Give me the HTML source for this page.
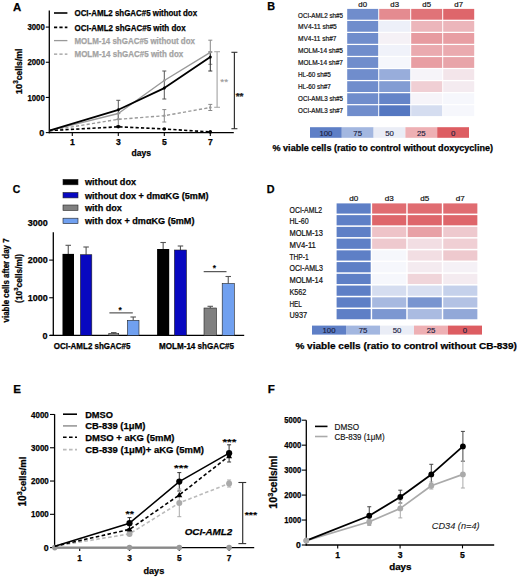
<!DOCTYPE html>
<html><head><meta charset="utf-8"><style>
html,body{margin:0;padding:0;background:#fff;}
svg{display:block;font-family:"Liberation Sans",sans-serif;}
</style></head><body>
<svg width="520" height="577" viewBox="0 0 520 577">
<rect width="520" height="577" fill="#fff"/>
<text x="12.90" y="10.60" font-size="11.4" font-weight="bold" stroke="#000" stroke-width="0.25">A</text>
<line x1="49.30" y1="10.50" x2="49.30" y2="133.20" stroke="#000" stroke-width="1.3"/>
<line x1="45.80" y1="132.60" x2="49.30" y2="132.60" stroke="#000" stroke-width="1.1"/>
<line x1="45.80" y1="97.43" x2="49.30" y2="97.43" stroke="#000" stroke-width="1.1"/>
<line x1="45.80" y1="62.26" x2="49.30" y2="62.26" stroke="#000" stroke-width="1.1"/>
<line x1="45.80" y1="27.09" x2="49.30" y2="27.09" stroke="#000" stroke-width="1.1"/>
<text x="44.80" y="100.63" font-size="9" font-weight="bold" stroke="#000" stroke-width="0.25" text-anchor="end" textLength="17.40" lengthAdjust="spacingAndGlyphs">1000</text>
<text x="44.80" y="65.46" font-size="9" font-weight="bold" stroke="#000" stroke-width="0.25" text-anchor="end" textLength="17.40" lengthAdjust="spacingAndGlyphs">2000</text>
<text x="44.80" y="30.29" font-size="9" font-weight="bold" stroke="#000" stroke-width="0.25" text-anchor="end" textLength="17.40" lengthAdjust="spacingAndGlyphs">3000</text>
<text x="44.20" y="135.80" font-size="9" font-weight="bold" stroke="#000" stroke-width="0.25" text-anchor="end">0</text>
<line x1="48.70" y1="132.60" x2="233.80" y2="132.60" stroke="#000" stroke-width="1.3"/>
<line x1="72.30" y1="132.60" x2="72.30" y2="136.00" stroke="#000" stroke-width="1.1"/>
<text x="72.30" y="144.80" font-size="8.6" font-weight="bold" stroke="#000" stroke-width="0.25" text-anchor="middle">1</text>
<line x1="118.30" y1="132.60" x2="118.30" y2="136.00" stroke="#000" stroke-width="1.1"/>
<text x="118.30" y="144.80" font-size="8.6" font-weight="bold" stroke="#000" stroke-width="0.25" text-anchor="middle">3</text>
<line x1="164.30" y1="132.60" x2="164.30" y2="136.00" stroke="#000" stroke-width="1.1"/>
<text x="164.30" y="144.80" font-size="8.6" font-weight="bold" stroke="#000" stroke-width="0.25" text-anchor="middle">5</text>
<line x1="210.30" y1="132.60" x2="210.30" y2="136.00" stroke="#000" stroke-width="1.1"/>
<text x="210.30" y="144.80" font-size="8.6" font-weight="bold" stroke="#000" stroke-width="0.25" text-anchor="middle">7</text>
<text x="131.50" y="156.40" font-size="8.6" font-weight="bold" stroke="#000" stroke-width="0.25" textLength="19.40" lengthAdjust="spacingAndGlyphs">days</text>
<text transform="translate(21.8 71.4) rotate(-90)" font-size="8.6" font-weight="bold" stroke="#000" stroke-width="0.25" text-anchor="middle" textLength="45.5" lengthAdjust="spacingAndGlyphs"><tspan font-size="9.2">10</tspan><tspan font-size="6.4" dy="-3.6">3</tspan><tspan dy="3.6">cells/ml</tspan></text>
<line x1="54.00" y1="13.00" x2="67.40" y2="13.00" stroke="#000" stroke-width="1.6"/>
<text x="74.50" y="16.10" font-size="8.8" font-weight="bold" stroke="#000" stroke-width="0.25" textLength="122.60" lengthAdjust="spacingAndGlyphs">OCI-AML2 shGAC#5 without dox</text>
<line x1="54.00" y1="27.40" x2="67.40" y2="27.40" stroke="#000" stroke-width="1.6" stroke-dasharray="3.2 2.2"/>
<text x="74.50" y="30.50" font-size="8.8" font-weight="bold" stroke="#000" stroke-width="0.25" textLength="111.10" lengthAdjust="spacingAndGlyphs">OCI-AML2 shGAC#5 with dox</text>
<line x1="54.00" y1="40.60" x2="67.40" y2="40.60" stroke="#999" stroke-width="1.3"/>
<text x="74.50" y="43.70" font-size="8.8" font-weight="bold" stroke="#a3a3a3" stroke-width="0.25" fill="#a3a3a3" textLength="120.50" lengthAdjust="spacingAndGlyphs">MOLM-14 shGAC#5 without dox</text>
<line x1="54.00" y1="54.20" x2="67.40" y2="54.20" stroke="#999" stroke-width="1.3" stroke-dasharray="3.2 2.2"/>
<text x="74.50" y="57.30" font-size="8.8" font-weight="bold" stroke="#a3a3a3" stroke-width="0.25" fill="#a3a3a3" textLength="108.80" lengthAdjust="spacingAndGlyphs">MOLM-14 shGAC#5 with dox</text>
<line x1="118.30" y1="100.30" x2="118.30" y2="119.30" stroke="#555" stroke-width="1.0"/>
<line x1="116.30" y1="100.30" x2="120.30" y2="100.30" stroke="#555" stroke-width="1.0"/>
<line x1="116.30" y1="119.30" x2="120.30" y2="119.30" stroke="#555" stroke-width="1.0"/>
<line x1="118.30" y1="113.50" x2="118.30" y2="125.50" stroke="#888" stroke-width="1.0"/>
<line x1="116.30" y1="113.50" x2="120.30" y2="113.50" stroke="#888" stroke-width="1.0"/>
<line x1="116.30" y1="125.50" x2="120.30" y2="125.50" stroke="#888" stroke-width="1.0"/>
<line x1="164.30" y1="71.00" x2="164.30" y2="99.00" stroke="#555" stroke-width="1.0"/>
<line x1="162.30" y1="71.00" x2="166.30" y2="71.00" stroke="#555" stroke-width="1.0"/>
<line x1="162.30" y1="99.00" x2="166.30" y2="99.00" stroke="#555" stroke-width="1.0"/>
<line x1="164.30" y1="109.60" x2="164.30" y2="122.00" stroke="#888" stroke-width="1.0"/>
<line x1="162.30" y1="109.60" x2="166.30" y2="109.60" stroke="#888" stroke-width="1.0"/>
<line x1="162.30" y1="122.00" x2="166.30" y2="122.00" stroke="#888" stroke-width="1.0"/>
<line x1="210.30" y1="40.20" x2="210.30" y2="64.30" stroke="#888" stroke-width="1.0"/>
<line x1="208.30" y1="40.20" x2="212.30" y2="40.20" stroke="#888" stroke-width="1.0"/>
<line x1="208.30" y1="64.30" x2="212.30" y2="64.30" stroke="#888" stroke-width="1.0"/>
<line x1="210.30" y1="52.00" x2="210.30" y2="71.00" stroke="#333" stroke-width="1.0"/>
<line x1="208.30" y1="52.00" x2="212.30" y2="52.00" stroke="#333" stroke-width="1.0"/>
<line x1="208.30" y1="71.00" x2="212.30" y2="71.00" stroke="#333" stroke-width="1.0"/>
<line x1="210.30" y1="104.40" x2="210.30" y2="110.50" stroke="#888" stroke-width="1.0"/>
<line x1="208.30" y1="104.40" x2="212.30" y2="104.40" stroke="#888" stroke-width="1.0"/>
<line x1="208.30" y1="110.50" x2="212.30" y2="110.50" stroke="#888" stroke-width="1.0"/>
<polyline points="49.30,130.60 118.30,119.30 164.30,115.70 210.30,107.50" fill="none" stroke="#999" stroke-width="1.4" stroke-dasharray="3.2 2.2" stroke-linejoin="round"/>
<polyline points="49.30,130.60 118.30,126.80 164.30,129.00 210.30,131.90" fill="none" stroke="#000" stroke-width="1.6" stroke-dasharray="3.2 2.2" stroke-linejoin="round"/>
<polyline points="49.30,130.60 118.30,113.50 164.30,80.50 210.30,52.30" fill="none" stroke="#999" stroke-width="1.4" stroke-linejoin="round"/>
<polyline points="49.30,130.60 118.30,109.80 164.30,88.10 210.30,57.10" fill="none" stroke="#000" stroke-width="1.8" stroke-linejoin="round"/>
<circle cx="118.30" cy="126.80" r="1.8" fill="#000"/>
<circle cx="164.30" cy="129.00" r="1.8" fill="#000"/>
<circle cx="210.30" cy="131.90" r="1.8" fill="#000"/>
<circle cx="118.30" cy="119.30" r="1.3" fill="#999"/>
<circle cx="164.30" cy="115.70" r="1.3" fill="#999"/>
<circle cx="210.30" cy="107.50" r="1.3" fill="#999"/>
<circle cx="118.30" cy="113.50" r="1.3" fill="#999"/>
<circle cx="164.30" cy="80.50" r="1.3" fill="#999"/>
<circle cx="210.30" cy="52.30" r="1.3" fill="#999"/>
<circle cx="118.30" cy="109.80" r="1.5" fill="#000"/>
<circle cx="164.30" cy="88.10" r="1.5" fill="#000"/>
<circle cx="210.30" cy="57.10" r="1.5" fill="#000"/>
<line x1="217.10" y1="51.70" x2="217.10" y2="107.30" stroke="#aaa" stroke-width="1.2"/>
<line x1="214.20" y1="51.70" x2="220.00" y2="51.70" stroke="#aaa" stroke-width="1.1"/>
<line x1="214.20" y1="107.30" x2="220.00" y2="107.30" stroke="#aaa" stroke-width="1.1"/>
<text x="220.30" y="85.00" font-size="9.4" font-weight="normal" stroke="#999" stroke-width="0.15" fill="#999" textLength="7.80" lengthAdjust="spacingAndGlyphs">**</text>
<line x1="234.40" y1="52.30" x2="234.40" y2="128.70" stroke="#333" stroke-width="1.2"/>
<line x1="231.40" y1="52.30" x2="237.40" y2="52.30" stroke="#333" stroke-width="1.1"/>
<line x1="231.40" y1="128.70" x2="237.40" y2="128.70" stroke="#333" stroke-width="1.1"/>
<text x="235.70" y="98.80" font-size="9.6" font-weight="bold" stroke="#222" stroke-width="0.25" fill="#222" textLength="7.80" lengthAdjust="spacingAndGlyphs">**</text>
<text x="267.20" y="10.00" font-size="10.8" font-weight="bold" stroke="#000" stroke-width="0.25">B</text>
<text x="362.70" y="6.80" font-size="7.8" font-weight="normal" stroke="#111" stroke-width="0.2" text-anchor="middle" fill="#111">d0</text>
<text x="394.70" y="6.80" font-size="7.8" font-weight="normal" stroke="#111" stroke-width="0.2" text-anchor="middle" fill="#111">d3</text>
<text x="426.70" y="6.80" font-size="7.8" font-weight="normal" stroke="#111" stroke-width="0.2" text-anchor="middle" fill="#111">d5</text>
<text x="458.70" y="6.80" font-size="7.8" font-weight="normal" stroke="#111" stroke-width="0.2" text-anchor="middle" fill="#111">d7</text>
<rect x="347.20" y="8.90" width="31.00" height="10.80" fill="rgb(112,141,204)"/>
<rect x="379.20" y="8.90" width="31.00" height="10.80" fill="rgb(228,139,144)"/>
<rect x="411.20" y="8.90" width="31.00" height="10.80" fill="rgb(224,115,120)"/>
<rect x="443.20" y="8.90" width="31.00" height="10.80" fill="rgb(222,102,107)"/>
<text x="298.00" y="17.50" font-size="7.8" font-weight="normal" stroke="#111" stroke-width="0.22" fill="#111" textLength="45.00" lengthAdjust="spacingAndGlyphs">OCI-AML2 sh#5</text>
<rect x="347.20" y="20.95" width="31.00" height="10.80" fill="rgb(112,141,204)"/>
<rect x="379.20" y="20.95" width="31.00" height="10.80" fill="rgb(237,240,249)"/>
<rect x="411.20" y="20.95" width="31.00" height="10.80" fill="rgb(236,182,187)"/>
<rect x="443.20" y="20.95" width="31.00" height="10.80" fill="rgb(236,182,187)"/>
<text x="298.00" y="29.40" font-size="7.8" font-weight="normal" stroke="#111" stroke-width="0.22" fill="#111" textLength="38.80" lengthAdjust="spacingAndGlyphs">MV4-11 sh#5</text>
<rect x="347.20" y="33.00" width="31.00" height="10.80" fill="rgb(112,141,204)"/>
<rect x="379.20" y="33.00" width="31.00" height="10.80" fill="rgb(245,241,246)"/>
<rect x="411.20" y="33.00" width="31.00" height="10.80" fill="rgb(231,155,160)"/>
<rect x="443.20" y="33.00" width="31.00" height="10.80" fill="rgb(232,158,163)"/>
<text x="298.00" y="41.30" font-size="7.8" font-weight="normal" stroke="#111" stroke-width="0.22" fill="#111" textLength="38.40" lengthAdjust="spacingAndGlyphs">MV4-11 sh#7</text>
<rect x="347.20" y="45.05" width="31.00" height="10.80" fill="rgb(112,141,204)"/>
<rect x="379.20" y="45.05" width="31.00" height="10.80" fill="rgb(240,242,250)"/>
<rect x="411.20" y="45.05" width="31.00" height="10.80" fill="rgb(234,170,175)"/>
<rect x="443.20" y="45.05" width="31.00" height="10.80" fill="rgb(234,170,175)"/>
<text x="298.00" y="53.20" font-size="7.8" font-weight="normal" stroke="#111" stroke-width="0.22" fill="#111" textLength="45.00" lengthAdjust="spacingAndGlyphs">MOLM-14 sh#5</text>
<rect x="347.20" y="57.10" width="31.00" height="10.80" fill="rgb(112,141,204)"/>
<rect x="379.20" y="57.10" width="31.00" height="10.80" fill="rgb(246,247,252)"/>
<rect x="411.20" y="57.10" width="31.00" height="10.80" fill="rgb(232,158,163)"/>
<rect x="443.20" y="57.10" width="31.00" height="10.80" fill="rgb(232,164,169)"/>
<text x="298.00" y="65.10" font-size="7.8" font-weight="normal" stroke="#111" stroke-width="0.22" fill="#111" textLength="45.00" lengthAdjust="spacingAndGlyphs">MOLM-14 sh#7</text>
<rect x="347.20" y="69.15" width="31.00" height="10.80" fill="rgb(112,141,204)"/>
<rect x="379.20" y="69.15" width="31.00" height="10.80" fill="rgb(152,173,219)"/>
<rect x="411.20" y="69.15" width="31.00" height="10.80" fill="rgb(246,244,249)"/>
<rect x="443.20" y="69.15" width="31.00" height="10.80" fill="rgb(243,229,234)"/>
<text x="298.00" y="77.00" font-size="7.8" font-weight="normal" stroke="#111" stroke-width="0.22" fill="#111" textLength="32.90" lengthAdjust="spacingAndGlyphs">HL-60 sh#5</text>
<rect x="347.20" y="81.20" width="31.00" height="10.80" fill="rgb(112,141,204)"/>
<rect x="379.20" y="81.20" width="31.00" height="10.80" fill="rgb(130,156,211)"/>
<rect x="411.20" y="81.20" width="31.00" height="10.80" fill="rgb(240,207,212)"/>
<rect x="443.20" y="81.20" width="31.00" height="10.80" fill="rgb(244,235,240)"/>
<text x="298.00" y="88.90" font-size="7.8" font-weight="normal" stroke="#111" stroke-width="0.22" fill="#111" textLength="32.90" lengthAdjust="spacingAndGlyphs">HL-60 sh#7</text>
<rect x="347.20" y="93.25" width="31.00" height="10.80" fill="rgb(112,141,204)"/>
<rect x="379.20" y="93.25" width="31.00" height="10.80" fill="rgb(100,132,200)"/>
<rect x="411.20" y="93.25" width="31.00" height="10.80" fill="rgb(246,244,249)"/>
<rect x="443.20" y="93.25" width="31.00" height="10.80" fill="rgb(246,247,252)"/>
<text x="298.00" y="100.80" font-size="7.8" font-weight="normal" stroke="#111" stroke-width="0.22" fill="#111" textLength="45.00" lengthAdjust="spacingAndGlyphs">OCI-AML3 sh#5</text>
<rect x="347.20" y="105.30" width="31.00" height="10.80" fill="rgb(112,141,204)"/>
<rect x="379.20" y="105.30" width="31.00" height="10.80" fill="rgb(84,119,193)"/>
<rect x="411.20" y="105.30" width="31.00" height="10.80" fill="rgb(213,221,240)"/>
<rect x="443.20" y="105.30" width="31.00" height="10.80" fill="rgb(246,247,252)"/>
<text x="298.00" y="112.70" font-size="7.8" font-weight="normal" stroke="#111" stroke-width="0.22" fill="#111" textLength="45.00" lengthAdjust="spacingAndGlyphs">OCI-AML3 sh#7</text>
<rect x="310.00" y="127.20" width="31.80" height="10.60" fill="rgb(94,127,198)"/>
<text x="325.90" y="135.60" font-size="7.8" font-weight="normal" stroke="#1a2040" stroke-width="0.15" text-anchor="middle" fill="#1a2040">100</text>
<rect x="341.80" y="127.20" width="31.80" height="10.60" fill="rgb(163,183,224)"/>
<text x="357.70" y="135.60" font-size="7.8" font-weight="normal" stroke="#1a2040" stroke-width="0.15" text-anchor="middle" fill="#1a2040">75</text>
<rect x="373.60" y="127.20" width="31.80" height="10.60" fill="rgb(234,237,246)"/>
<text x="389.50" y="135.60" font-size="7.8" font-weight="normal" stroke="#1a2040" stroke-width="0.15" text-anchor="middle" fill="#1a2040">50</text>
<rect x="405.40" y="127.20" width="31.80" height="10.60" fill="rgb(238,176,180)"/>
<text x="421.30" y="135.60" font-size="7.8" font-weight="normal" stroke="#1a2040" stroke-width="0.15" text-anchor="middle" fill="#1a2040">25</text>
<rect x="437.20" y="127.20" width="31.80" height="10.60" fill="rgb(221,93,98)"/>
<text x="453.10" y="135.60" font-size="7.8" font-weight="normal" stroke="#1a2040" stroke-width="0.15" text-anchor="middle" fill="#1a2040">0</text>
<text x="272.50" y="151.20" font-size="8.7" font-weight="bold" stroke="#000" stroke-width="0.25" textLength="220.50" lengthAdjust="spacingAndGlyphs">% viable cells (ratio to control without doxycycline)</text>
<text x="12.80" y="192.80" font-size="10.4" font-weight="bold" stroke="#000" stroke-width="0.25">C</text>
<rect x="63.00" y="179.40" width="15.00" height="5.40" fill="#000" stroke="#222" stroke-width="0.6"/>
<text x="85.00" y="185.40" font-size="9.1" font-weight="bold" stroke="#000" stroke-width="0.25">without dox</text>
<rect x="63.00" y="192.50" width="15.00" height="5.40" fill="#0808c0" stroke="#222" stroke-width="0.6"/>
<text x="85.00" y="198.50" font-size="9.1" font-weight="bold" stroke="#000" stroke-width="0.25">without dox + dmαKG (5mM)</text>
<rect x="63.00" y="205.00" width="15.00" height="5.40" fill="#808080" stroke="#222" stroke-width="0.6"/>
<text x="85.00" y="211.00" font-size="9.1" font-weight="bold" stroke="#000" stroke-width="0.25">with dox</text>
<rect x="63.00" y="218.20" width="15.00" height="5.40" fill="#70a0f0" stroke="#222" stroke-width="0.6"/>
<text x="85.00" y="224.20" font-size="9.1" font-weight="bold" stroke="#000" stroke-width="0.25">with dox + dmαKG (5mM)</text>
<line x1="53.30" y1="232.20" x2="53.30" y2="336.00" stroke="#000" stroke-width="1.3"/>
<line x1="49.20" y1="335.40" x2="53.30" y2="335.40" stroke="#000" stroke-width="1.1"/>
<line x1="49.20" y1="297.75" x2="53.30" y2="297.75" stroke="#000" stroke-width="1.1"/>
<line x1="49.20" y1="260.10" x2="53.30" y2="260.10" stroke="#000" stroke-width="1.1"/>
<text x="47.70" y="300.95" font-size="9" font-weight="bold" stroke="#000" stroke-width="0.25" text-anchor="end" textLength="20.00" lengthAdjust="spacingAndGlyphs">1000</text>
<text x="47.70" y="263.30" font-size="9" font-weight="bold" stroke="#000" stroke-width="0.25" text-anchor="end" textLength="20.00" lengthAdjust="spacingAndGlyphs">2000</text>
<text x="47.70" y="225.65" font-size="9" font-weight="bold" stroke="#000" stroke-width="0.25" text-anchor="end" textLength="20.00" lengthAdjust="spacingAndGlyphs">3000</text>
<text x="47.40" y="338.60" font-size="9" font-weight="bold" stroke="#000" stroke-width="0.25" text-anchor="end">0</text>
<line x1="50.00" y1="335.40" x2="244.20" y2="335.40" stroke="#000" stroke-width="1.3"/>
<line x1="68.25" y1="245.30" x2="68.25" y2="253.90" stroke="#555" stroke-width="1.1"/>
<line x1="65.50" y1="245.30" x2="71.00" y2="245.30" stroke="#555" stroke-width="1.1"/>
<rect x="62.50" y="253.90" width="11.50" height="81.50" fill="#000"/>
<line x1="86.10" y1="247.00" x2="86.10" y2="254.70" stroke="#555" stroke-width="1.1"/>
<line x1="83.35" y1="247.00" x2="88.85" y2="247.00" stroke="#555" stroke-width="1.1"/>
<rect x="80.40" y="254.70" width="11.40" height="80.70" fill="#0808c0" stroke="#222" stroke-width="0.6"/>
<line x1="113.75" y1="332.60" x2="113.75" y2="333.60" stroke="#555" stroke-width="1.1"/>
<line x1="111.00" y1="332.60" x2="116.50" y2="332.60" stroke="#555" stroke-width="1.1"/>
<rect x="108.80" y="333.60" width="9.90" height="1.80" fill="#808080" stroke="#222" stroke-width="0.6"/>
<line x1="133.20" y1="317.00" x2="133.20" y2="320.30" stroke="#555" stroke-width="1.1"/>
<line x1="130.45" y1="317.00" x2="135.95" y2="317.00" stroke="#555" stroke-width="1.1"/>
<rect x="127.40" y="320.30" width="11.60" height="15.10" fill="#70a0f0" stroke="#222" stroke-width="0.6"/>
<line x1="163.15" y1="242.50" x2="163.15" y2="249.00" stroke="#555" stroke-width="1.1"/>
<line x1="160.40" y1="242.50" x2="165.90" y2="242.50" stroke="#555" stroke-width="1.1"/>
<rect x="157.10" y="249.00" width="12.10" height="86.40" fill="#000"/>
<line x1="180.45" y1="246.00" x2="180.45" y2="250.00" stroke="#555" stroke-width="1.1"/>
<line x1="177.70" y1="246.00" x2="183.20" y2="246.00" stroke="#555" stroke-width="1.1"/>
<rect x="174.40" y="250.00" width="12.10" height="85.40" fill="#0808c0" stroke="#222" stroke-width="0.6"/>
<line x1="210.25" y1="306.30" x2="210.25" y2="308.00" stroke="#555" stroke-width="1.1"/>
<line x1="207.50" y1="306.30" x2="213.00" y2="306.30" stroke="#555" stroke-width="1.1"/>
<rect x="204.00" y="308.00" width="12.50" height="27.40" fill="#808080" stroke="#222" stroke-width="0.6"/>
<line x1="228.25" y1="276.50" x2="228.25" y2="283.50" stroke="#555" stroke-width="1.1"/>
<line x1="225.50" y1="276.50" x2="231.00" y2="276.50" stroke="#555" stroke-width="1.1"/>
<rect x="222.20" y="283.50" width="12.10" height="51.90" fill="#70a0f0" stroke="#222" stroke-width="0.6"/>
<line x1="109.40" y1="312.90" x2="132.80" y2="312.90" stroke="#333" stroke-width="1.0"/>
<text x="120.20" y="312.60" font-size="8.4" font-weight="bold" stroke="#000" stroke-width="0.1" text-anchor="middle">*</text>
<line x1="203.70" y1="271.70" x2="226.50" y2="271.70" stroke="#333" stroke-width="1.0"/>
<text x="214.40" y="271.40" font-size="8.4" font-weight="bold" stroke="#000" stroke-width="0.1" text-anchor="middle">*</text>
<text x="53.80" y="349.20" font-size="8.2" font-weight="bold" stroke="#000" stroke-width="0.25" textLength="76.60" lengthAdjust="spacingAndGlyphs">OCI-AML2 shGAC#5</text>
<text x="159.00" y="349.20" font-size="8.2" font-weight="bold" stroke="#000" stroke-width="0.25" textLength="75.00" lengthAdjust="spacingAndGlyphs">MOLM-14 shGAC#5</text>
<text x="8.90" y="280.40" font-size="8.6" font-weight="bold" stroke="#000" stroke-width="0.25" text-anchor="middle" textLength="84.00" lengthAdjust="spacingAndGlyphs" transform="rotate(-90 8.90 280.40)">viable cells after day 7</text>
<text transform="translate(21.7 278.4) rotate(-90)" font-size="8.8" font-weight="bold" stroke="#000" stroke-width="0.25" text-anchor="middle" textLength="49" lengthAdjust="spacingAndGlyphs">(10<tspan font-size="6.2" dy="-3.3">3</tspan><tspan dy="3.3">cells/ml)</tspan></text>
<text x="266.80" y="193.00" font-size="10.8" font-weight="bold" stroke="#000" stroke-width="0.25">D</text>
<text x="353.65" y="201.20" font-size="8.1" font-weight="normal" stroke="#111" stroke-width="0.2" text-anchor="middle" fill="#111">d0</text>
<text x="389.20" y="201.20" font-size="8.1" font-weight="normal" stroke="#111" stroke-width="0.2" text-anchor="middle" fill="#111">d3</text>
<text x="424.75" y="201.20" font-size="8.1" font-weight="normal" stroke="#111" stroke-width="0.2" text-anchor="middle" fill="#111">d5</text>
<text x="460.30" y="201.20" font-size="8.1" font-weight="normal" stroke="#111" stroke-width="0.2" text-anchor="middle" fill="#111">d7</text>
<rect x="336.60" y="203.40" width="34.10" height="10.20" fill="rgb(94,127,198)"/>
<rect x="372.15" y="203.40" width="34.10" height="10.20" fill="rgb(224,108,113)"/>
<rect x="407.70" y="203.40" width="34.10" height="10.20" fill="rgb(224,108,113)"/>
<rect x="443.25" y="203.40" width="34.10" height="10.20" fill="rgb(224,108,113)"/>
<text x="289.50" y="212.50" font-size="8.6" font-weight="normal" stroke="#111" stroke-width="0.22" fill="#111" textLength="32.70" lengthAdjust="spacingAndGlyphs">OCI-AML2</text>
<rect x="336.60" y="215.14" width="34.10" height="10.20" fill="rgb(94,127,198)"/>
<rect x="372.15" y="215.14" width="34.10" height="10.20" fill="rgb(222,102,107)"/>
<rect x="407.70" y="215.14" width="34.10" height="10.20" fill="rgb(222,102,107)"/>
<rect x="443.25" y="215.14" width="34.10" height="10.20" fill="rgb(222,102,107)"/>
<text x="289.50" y="224.27" font-size="8.6" font-weight="normal" stroke="#111" stroke-width="0.22" fill="#111" textLength="19.20" lengthAdjust="spacingAndGlyphs">HL-60</text>
<rect x="336.60" y="226.88" width="34.10" height="10.20" fill="rgb(94,127,198)"/>
<rect x="372.15" y="226.88" width="34.10" height="10.20" fill="rgb(238,195,200)"/>
<rect x="407.70" y="226.88" width="34.10" height="10.20" fill="rgb(232,161,166)"/>
<rect x="443.25" y="226.88" width="34.10" height="10.20" fill="rgb(238,201,206)"/>
<text x="289.50" y="236.04" font-size="8.6" font-weight="normal" stroke="#111" stroke-width="0.22" fill="#111" textLength="33.40" lengthAdjust="spacingAndGlyphs">MOLM-13</text>
<rect x="336.60" y="238.62" width="34.10" height="10.20" fill="rgb(94,127,198)"/>
<rect x="372.15" y="238.62" width="34.10" height="10.20" fill="rgb(238,201,206)"/>
<rect x="407.70" y="238.62" width="34.10" height="10.20" fill="rgb(242,222,227)"/>
<rect x="443.25" y="238.62" width="34.10" height="10.20" fill="rgb(240,207,212)"/>
<text x="289.50" y="247.81" font-size="8.6" font-weight="normal" stroke="#111" stroke-width="0.22" fill="#111" textLength="26.40" lengthAdjust="spacingAndGlyphs">MV4-11</text>
<rect x="336.60" y="250.36" width="34.10" height="10.20" fill="rgb(94,127,198)"/>
<rect x="372.15" y="250.36" width="34.10" height="10.20" fill="rgb(246,247,252)"/>
<rect x="407.70" y="250.36" width="34.10" height="10.20" fill="rgb(242,222,227)"/>
<rect x="443.25" y="250.36" width="34.10" height="10.20" fill="rgb(238,201,206)"/>
<text x="289.50" y="259.58" font-size="8.6" font-weight="normal" stroke="#111" stroke-width="0.22" fill="#111" textLength="19.20" lengthAdjust="spacingAndGlyphs">THP-1</text>
<rect x="336.60" y="262.10" width="34.10" height="10.20" fill="rgb(94,127,198)"/>
<rect x="372.15" y="262.10" width="34.10" height="10.20" fill="rgb(246,247,252)"/>
<rect x="407.70" y="262.10" width="34.10" height="10.20" fill="rgb(244,235,240)"/>
<rect x="443.25" y="262.10" width="34.10" height="10.20" fill="rgb(245,241,246)"/>
<text x="289.50" y="271.35" font-size="8.6" font-weight="normal" stroke="#111" stroke-width="0.22" fill="#111" textLength="33.40" lengthAdjust="spacingAndGlyphs">OCI-AML3</text>
<rect x="336.60" y="273.84" width="34.10" height="10.20" fill="rgb(94,127,198)"/>
<rect x="372.15" y="273.84" width="34.10" height="10.20" fill="rgb(246,247,252)"/>
<rect x="407.70" y="273.84" width="34.10" height="10.20" fill="rgb(240,213,218)"/>
<rect x="443.25" y="273.84" width="34.10" height="10.20" fill="rgb(244,235,240)"/>
<text x="289.50" y="283.12" font-size="8.6" font-weight="normal" stroke="#111" stroke-width="0.22" fill="#111" textLength="33.40" lengthAdjust="spacingAndGlyphs">MOLM-14</text>
<rect x="336.60" y="285.58" width="34.10" height="10.20" fill="rgb(94,127,198)"/>
<rect x="372.15" y="285.58" width="34.10" height="10.20" fill="rgb(213,221,240)"/>
<rect x="407.70" y="285.58" width="34.10" height="10.20" fill="rgb(216,223,241)"/>
<rect x="443.25" y="285.58" width="34.10" height="10.20" fill="rgb(197,209,235)"/>
<text x="289.50" y="294.89" font-size="8.6" font-weight="normal" stroke="#111" stroke-width="0.22" fill="#111" textLength="16.90" lengthAdjust="spacingAndGlyphs">K562</text>
<rect x="336.60" y="297.32" width="34.10" height="10.20" fill="rgb(94,127,198)"/>
<rect x="372.15" y="297.32" width="34.10" height="10.20" fill="rgb(167,185,224)"/>
<rect x="407.70" y="297.32" width="34.10" height="10.20" fill="rgb(121,149,208)"/>
<rect x="443.25" y="297.32" width="34.10" height="10.20" fill="rgb(179,194,228)"/>
<text x="289.50" y="306.66" font-size="8.6" font-weight="normal" stroke="#111" stroke-width="0.22" fill="#111" textLength="12.40" lengthAdjust="spacingAndGlyphs">HEL</text>
<rect x="336.60" y="309.06" width="34.10" height="10.20" fill="rgb(94,127,198)"/>
<rect x="372.15" y="309.06" width="34.10" height="10.20" fill="rgb(124,151,209)"/>
<rect x="407.70" y="309.06" width="34.10" height="10.20" fill="rgb(170,187,225)"/>
<rect x="443.25" y="309.06" width="34.10" height="10.20" fill="rgb(146,168,216)"/>
<text x="289.50" y="318.43" font-size="8.6" font-weight="normal" stroke="#111" stroke-width="0.22" fill="#111" textLength="17.60" lengthAdjust="spacingAndGlyphs">U937</text>
<rect x="312.00" y="325.60" width="34.00" height="9.00" fill="rgb(94,127,198)"/>
<text x="329.00" y="333.00" font-size="7.8" font-weight="normal" stroke="#1a2040" stroke-width="0.15" text-anchor="middle" fill="#1a2040">100</text>
<rect x="346.00" y="325.60" width="34.00" height="9.00" fill="rgb(163,183,224)"/>
<text x="363.00" y="333.00" font-size="7.8" font-weight="normal" stroke="#1a2040" stroke-width="0.15" text-anchor="middle" fill="#1a2040">75</text>
<rect x="380.00" y="325.60" width="34.00" height="9.00" fill="rgb(234,237,246)"/>
<text x="397.00" y="333.00" font-size="7.8" font-weight="normal" stroke="#1a2040" stroke-width="0.15" text-anchor="middle" fill="#1a2040">50</text>
<rect x="414.00" y="325.60" width="34.00" height="9.00" fill="rgb(238,176,180)"/>
<text x="431.00" y="333.00" font-size="7.8" font-weight="normal" stroke="#1a2040" stroke-width="0.15" text-anchor="middle" fill="#1a2040">25</text>
<rect x="448.00" y="325.60" width="34.00" height="9.00" fill="rgb(221,93,98)"/>
<text x="465.00" y="333.00" font-size="7.8" font-weight="normal" stroke="#1a2040" stroke-width="0.15" text-anchor="middle" fill="#1a2040">0</text>
<text x="295.40" y="348.60" font-size="9.5" font-weight="bold" stroke="#000" stroke-width="0.25" textLength="221.50" lengthAdjust="spacingAndGlyphs">% viable cells (ratio to control without CB-839)</text>
<text x="13.30" y="393.00" font-size="11.6" font-weight="bold" stroke="#000" stroke-width="0.25">E</text>
<line x1="54.60" y1="414.20" x2="54.60" y2="548.20" stroke="#000" stroke-width="1.3"/>
<line x1="50.00" y1="547.60" x2="54.60" y2="547.60" stroke="#000" stroke-width="1.1"/>
<line x1="50.00" y1="514.32" x2="54.60" y2="514.32" stroke="#000" stroke-width="1.1"/>
<line x1="50.00" y1="481.04" x2="54.60" y2="481.04" stroke="#000" stroke-width="1.1"/>
<line x1="50.00" y1="447.76" x2="54.60" y2="447.76" stroke="#000" stroke-width="1.1"/>
<line x1="50.00" y1="414.48" x2="54.60" y2="414.48" stroke="#000" stroke-width="1.1"/>
<text x="48.80" y="517.42" font-size="8.8" font-weight="bold" stroke="#000" stroke-width="0.25" text-anchor="end" textLength="17.70" lengthAdjust="spacingAndGlyphs">1000</text>
<text x="48.80" y="484.14" font-size="8.8" font-weight="bold" stroke="#000" stroke-width="0.25" text-anchor="end" textLength="17.70" lengthAdjust="spacingAndGlyphs">2000</text>
<text x="48.80" y="450.86" font-size="8.8" font-weight="bold" stroke="#000" stroke-width="0.25" text-anchor="end" textLength="17.70" lengthAdjust="spacingAndGlyphs">3000</text>
<text x="48.80" y="417.58" font-size="8.8" font-weight="bold" stroke="#000" stroke-width="0.25" text-anchor="end" textLength="17.70" lengthAdjust="spacingAndGlyphs">4000</text>
<text x="48.60" y="550.70" font-size="8.8" font-weight="bold" stroke="#000" stroke-width="0.25" text-anchor="end">0</text>
<line x1="54.00" y1="547.60" x2="254.20" y2="547.60" stroke="#000" stroke-width="1.3"/>
<line x1="79.70" y1="547.60" x2="79.70" y2="551.00" stroke="#000" stroke-width="1.1"/>
<text x="79.70" y="561.40" font-size="8.4" font-weight="bold" stroke="#000" stroke-width="0.25" text-anchor="middle">1</text>
<line x1="129.50" y1="547.60" x2="129.50" y2="551.00" stroke="#000" stroke-width="1.1"/>
<text x="129.50" y="561.40" font-size="8.4" font-weight="bold" stroke="#000" stroke-width="0.25" text-anchor="middle">3</text>
<line x1="179.30" y1="547.60" x2="179.30" y2="551.00" stroke="#000" stroke-width="1.1"/>
<text x="179.30" y="561.40" font-size="8.4" font-weight="bold" stroke="#000" stroke-width="0.25" text-anchor="middle">5</text>
<line x1="229.10" y1="547.60" x2="229.10" y2="551.00" stroke="#000" stroke-width="1.1"/>
<text x="229.10" y="561.40" font-size="8.4" font-weight="bold" stroke="#000" stroke-width="0.25" text-anchor="middle">7</text>
<text x="143.50" y="573.60" font-size="8.8" font-weight="bold" stroke="#000" stroke-width="0.25" textLength="20.70" lengthAdjust="spacingAndGlyphs">days</text>
<text transform="translate(26 481.6) rotate(-90)" font-size="9.4" font-weight="bold" stroke="#000" stroke-width="0.25" text-anchor="middle" textLength="50" lengthAdjust="spacingAndGlyphs"><tspan font-size="10">10</tspan><tspan font-size="7" dy="-3.8">3</tspan><tspan dy="3.8">cells/ml</tspan></text>
<line x1="63.00" y1="414.20" x2="77.00" y2="414.20" stroke="#000" stroke-width="1.6"/>
<text x="85.20" y="417.60" font-size="9.4" font-weight="bold" stroke="#000" stroke-width="0.25" textLength="27.70" lengthAdjust="spacingAndGlyphs">DMSO</text>
<line x1="63.00" y1="425.90" x2="77.00" y2="425.90" stroke="#999" stroke-width="1.6"/>
<text x="85.20" y="429.30" font-size="9.4" font-weight="bold" stroke="#000" stroke-width="0.25" textLength="60.30" lengthAdjust="spacingAndGlyphs">CB-839 (1μM)</text>
<line x1="63.00" y1="437.30" x2="77.00" y2="437.30" stroke="#000" stroke-width="1.6" stroke-dasharray="3.6 2.4"/>
<text x="85.20" y="440.70" font-size="9.4" font-weight="bold" stroke="#000" stroke-width="0.25" textLength="89.30" lengthAdjust="spacingAndGlyphs">DMSO + aKG (5mM)</text>
<line x1="63.00" y1="449.60" x2="77.00" y2="449.60" stroke="#bbb" stroke-width="1.6" stroke-dasharray="3.6 2.4"/>
<text x="85.20" y="453.00" font-size="9.4" font-weight="bold" stroke="#000" stroke-width="0.25" textLength="118.80" lengthAdjust="spacingAndGlyphs">CB-839 (1μM)+ aKG (5mM)</text>
<line x1="129.50" y1="517.60" x2="129.50" y2="528.50" stroke="#333" stroke-width="1.0"/>
<line x1="127.50" y1="517.60" x2="131.50" y2="517.60" stroke="#333" stroke-width="1.0"/>
<line x1="127.50" y1="528.50" x2="131.50" y2="528.50" stroke="#333" stroke-width="1.0"/>
<line x1="179.30" y1="472.60" x2="179.30" y2="491.00" stroke="#333" stroke-width="1.0"/>
<line x1="177.30" y1="472.60" x2="181.30" y2="472.60" stroke="#333" stroke-width="1.0"/>
<line x1="177.30" y1="491.00" x2="181.30" y2="491.00" stroke="#333" stroke-width="1.0"/>
<line x1="179.30" y1="489.00" x2="179.30" y2="516.70" stroke="#aaa" stroke-width="1.0"/>
<line x1="177.30" y1="489.00" x2="181.30" y2="489.00" stroke="#aaa" stroke-width="1.0"/>
<line x1="177.30" y1="516.70" x2="181.30" y2="516.70" stroke="#aaa" stroke-width="1.0"/>
<line x1="229.10" y1="444.80" x2="229.10" y2="462.00" stroke="#333" stroke-width="1.0"/>
<line x1="227.10" y1="444.80" x2="231.10" y2="444.80" stroke="#333" stroke-width="1.0"/>
<line x1="227.10" y1="462.00" x2="231.10" y2="462.00" stroke="#333" stroke-width="1.0"/>
<line x1="229.10" y1="480.00" x2="229.10" y2="487.00" stroke="#aaa" stroke-width="1.0"/>
<line x1="227.10" y1="480.00" x2="231.10" y2="480.00" stroke="#aaa" stroke-width="1.0"/>
<line x1="227.10" y1="487.00" x2="231.10" y2="487.00" stroke="#aaa" stroke-width="1.0"/>
<line x1="54.60" y1="547.60" x2="179.30" y2="547.60" stroke="#888" stroke-width="2.2"/>
<circle cx="54.80" cy="547.60" r="2.8" fill="#999"/>
<circle cx="129.50" cy="547.60" r="2.8" fill="#999"/>
<circle cx="179.30" cy="547.60" r="2.8" fill="#999"/>
<circle cx="229.10" cy="547.60" r="2.8" fill="#999"/>
<polyline points="54.80,546.20 129.50,533.90 179.30,502.90 229.10,483.50" fill="none" stroke="#bbb" stroke-width="1.6" stroke-dasharray="3.6 2.4" stroke-linejoin="round"/>
<polyline points="54.80,546.20 129.50,529.40 179.30,495.00 229.10,456.00" fill="none" stroke="#000" stroke-width="1.6" stroke-dasharray="3.6 2.4" stroke-linejoin="round"/>
<polyline points="54.80,546.20 129.50,523.20 179.30,481.60 229.10,453.20" fill="none" stroke="#000" stroke-width="1.5" stroke-linejoin="round"/>
<circle cx="129.50" cy="533.90" r="3.0" fill="#aaa"/>
<circle cx="179.30" cy="502.90" r="3.0" fill="#aaa"/>
<circle cx="229.10" cy="483.50" r="3.0" fill="#aaa"/>
<polygon points="129.50,526.40 132.50,531.60 126.50,531.60" fill="#000"/>
<polygon points="179.30,492.00 182.30,497.20 176.30,497.20" fill="#000"/>
<polygon points="229.10,453.00 232.10,458.20 226.10,458.20" fill="#000"/>
<circle cx="129.50" cy="523.20" r="3.1" fill="#000"/>
<circle cx="179.30" cy="481.60" r="3.1" fill="#000"/>
<circle cx="229.10" cy="453.20" r="3.1" fill="#000"/>
<text x="125.60" y="517.00" font-size="8.6" font-weight="bold" stroke="#000" stroke-width="0.1" textLength="8.40" lengthAdjust="spacingAndGlyphs">**</text>
<text x="174.10" y="471.30" font-size="8.6" font-weight="bold" stroke="#000" stroke-width="0.1" textLength="14.00" lengthAdjust="spacingAndGlyphs">***</text>
<text x="222.40" y="444.80" font-size="8.6" font-weight="bold" stroke="#000" stroke-width="0.1" textLength="13.90" lengthAdjust="spacingAndGlyphs">***</text>
<line x1="242.70" y1="482.50" x2="242.70" y2="543.60" stroke="#333" stroke-width="1.2"/>
<line x1="238.40" y1="482.50" x2="246.20" y2="482.50" stroke="#333" stroke-width="1.1"/>
<line x1="238.40" y1="543.60" x2="246.20" y2="543.60" stroke="#333" stroke-width="1.1"/>
<text x="244.70" y="518.00" font-size="8.6" font-weight="bold" stroke="#000" stroke-width="0.1" textLength="12.50" lengthAdjust="spacingAndGlyphs">***</text>
<text x="184.70" y="534.90" font-size="9.6" font-weight="bold" stroke="#000" stroke-width="0.25" font-style="italic" textLength="47.60" lengthAdjust="spacingAndGlyphs">OCI-AML2</text>
<text x="267.80" y="393.00" font-size="11.6" font-weight="bold" stroke="#000" stroke-width="0.25">F</text>
<line x1="306.30" y1="420.30" x2="306.30" y2="545.60" stroke="#000" stroke-width="1.3"/>
<line x1="301.80" y1="545.00" x2="306.30" y2="545.00" stroke="#000" stroke-width="1.1"/>
<line x1="301.80" y1="520.04" x2="306.30" y2="520.04" stroke="#000" stroke-width="1.1"/>
<line x1="301.80" y1="495.08" x2="306.30" y2="495.08" stroke="#000" stroke-width="1.1"/>
<line x1="301.80" y1="470.12" x2="306.30" y2="470.12" stroke="#000" stroke-width="1.1"/>
<line x1="301.80" y1="445.16" x2="306.30" y2="445.16" stroke="#000" stroke-width="1.1"/>
<line x1="301.80" y1="420.20" x2="306.30" y2="420.20" stroke="#000" stroke-width="1.1"/>
<text x="301.20" y="523.04" font-size="8.6" font-weight="bold" stroke="#000" stroke-width="0.25" text-anchor="end" textLength="16.90" lengthAdjust="spacingAndGlyphs">1000</text>
<text x="301.20" y="498.08" font-size="8.6" font-weight="bold" stroke="#000" stroke-width="0.25" text-anchor="end" textLength="16.90" lengthAdjust="spacingAndGlyphs">2000</text>
<text x="301.20" y="473.12" font-size="8.6" font-weight="bold" stroke="#000" stroke-width="0.25" text-anchor="end" textLength="16.90" lengthAdjust="spacingAndGlyphs">3000</text>
<text x="301.20" y="448.16" font-size="8.6" font-weight="bold" stroke="#000" stroke-width="0.25" text-anchor="end" textLength="16.90" lengthAdjust="spacingAndGlyphs">4000</text>
<text x="301.20" y="423.20" font-size="8.6" font-weight="bold" stroke="#000" stroke-width="0.25" text-anchor="end" textLength="16.90" lengthAdjust="spacingAndGlyphs">5000</text>
<text x="300.90" y="548.00" font-size="8.6" font-weight="bold" stroke="#000" stroke-width="0.25" text-anchor="end">0</text>
<line x1="305.70" y1="545.00" x2="494.20" y2="545.00" stroke="#000" stroke-width="1.3"/>
<line x1="337.70" y1="545.00" x2="337.70" y2="548.40" stroke="#000" stroke-width="1.1"/>
<text x="337.70" y="558.30" font-size="8.6" font-weight="bold" stroke="#000" stroke-width="0.25" text-anchor="middle">1</text>
<line x1="400.10" y1="545.00" x2="400.10" y2="548.40" stroke="#000" stroke-width="1.1"/>
<text x="400.10" y="558.30" font-size="8.6" font-weight="bold" stroke="#000" stroke-width="0.25" text-anchor="middle">3</text>
<line x1="462.50" y1="545.00" x2="462.50" y2="548.40" stroke="#000" stroke-width="1.1"/>
<text x="462.50" y="558.30" font-size="8.6" font-weight="bold" stroke="#000" stroke-width="0.25" text-anchor="middle">5</text>
<text x="389.20" y="569.80" font-size="8.8" font-weight="bold" stroke="#000" stroke-width="0.25" textLength="22.30" lengthAdjust="spacingAndGlyphs">days</text>
<text transform="translate(277.2 482.2) rotate(-90)" font-size="10" font-weight="bold" stroke="#000" stroke-width="0.25" text-anchor="middle" textLength="53" lengthAdjust="spacingAndGlyphs"><tspan font-size="10.5">10</tspan><tspan font-size="7.2" dy="-4">3</tspan><tspan dy="4">cells/ml</tspan></text>
<line x1="315.00" y1="426.40" x2="327.50" y2="426.40" stroke="#000" stroke-width="1.6"/>
<text x="334.60" y="429.50" font-size="8.4" font-weight="normal" stroke="#111" stroke-width="0.15" fill="#111" textLength="24.60" lengthAdjust="spacingAndGlyphs">DMSO</text>
<line x1="315.00" y1="436.50" x2="327.50" y2="436.50" stroke="#aaa" stroke-width="1.6"/>
<text x="334.60" y="440.00" font-size="8.4" font-weight="normal" stroke="#111" stroke-width="0.15" fill="#111" textLength="50.00" lengthAdjust="spacingAndGlyphs">CB-839 (1μM)</text>
<line x1="369.25" y1="506.75" x2="369.25" y2="524.00" stroke="#444" stroke-width="1.0"/>
<line x1="367.25" y1="506.75" x2="371.25" y2="506.75" stroke="#444" stroke-width="1.0"/>
<line x1="367.25" y1="524.00" x2="371.25" y2="524.00" stroke="#444" stroke-width="1.0"/>
<line x1="369.25" y1="518.00" x2="369.25" y2="525.50" stroke="#aaa" stroke-width="1.0"/>
<line x1="367.25" y1="518.00" x2="371.25" y2="518.00" stroke="#aaa" stroke-width="1.0"/>
<line x1="367.25" y1="525.50" x2="371.25" y2="525.50" stroke="#aaa" stroke-width="1.0"/>
<line x1="400.30" y1="490.20" x2="400.30" y2="503.00" stroke="#444" stroke-width="1.0"/>
<line x1="398.30" y1="490.20" x2="402.30" y2="490.20" stroke="#444" stroke-width="1.0"/>
<line x1="398.30" y1="503.00" x2="402.30" y2="503.00" stroke="#444" stroke-width="1.0"/>
<line x1="400.30" y1="500.00" x2="400.30" y2="517.90" stroke="#aaa" stroke-width="1.0"/>
<line x1="398.30" y1="500.00" x2="402.30" y2="500.00" stroke="#aaa" stroke-width="1.0"/>
<line x1="398.30" y1="517.90" x2="402.30" y2="517.90" stroke="#aaa" stroke-width="1.0"/>
<line x1="431.30" y1="464.30" x2="431.30" y2="484.00" stroke="#444" stroke-width="1.0"/>
<line x1="429.30" y1="464.30" x2="433.30" y2="464.30" stroke="#444" stroke-width="1.0"/>
<line x1="429.30" y1="484.00" x2="433.30" y2="484.00" stroke="#444" stroke-width="1.0"/>
<line x1="431.30" y1="482.00" x2="431.30" y2="489.00" stroke="#aaa" stroke-width="1.0"/>
<line x1="429.30" y1="482.00" x2="433.30" y2="482.00" stroke="#aaa" stroke-width="1.0"/>
<line x1="429.30" y1="489.00" x2="433.30" y2="489.00" stroke="#aaa" stroke-width="1.0"/>
<line x1="462.90" y1="431.40" x2="462.90" y2="461.30" stroke="#444" stroke-width="1.0"/>
<line x1="460.90" y1="431.40" x2="464.90" y2="431.40" stroke="#444" stroke-width="1.0"/>
<line x1="460.90" y1="461.30" x2="464.90" y2="461.30" stroke="#444" stroke-width="1.0"/>
<line x1="462.90" y1="461.00" x2="462.90" y2="488.00" stroke="#aaa" stroke-width="1.0"/>
<line x1="460.90" y1="461.00" x2="464.90" y2="461.00" stroke="#aaa" stroke-width="1.0"/>
<line x1="460.90" y1="488.00" x2="464.90" y2="488.00" stroke="#aaa" stroke-width="1.0"/>
<polyline points="306.30,540.60 369.25,521.75 400.30,508.40 431.30,485.80 462.90,474.40" fill="none" stroke="#aaa" stroke-width="1.7" stroke-linejoin="round"/>
<polyline points="306.30,540.60 369.25,515.75 400.30,497.00 431.30,474.40 462.90,446.40" fill="none" stroke="#000" stroke-width="1.8" stroke-linejoin="round"/>
<circle cx="306.30" cy="540.60" r="2.9" fill="#aaa"/>
<circle cx="369.25" cy="521.75" r="2.9" fill="#aaa"/>
<circle cx="400.30" cy="508.40" r="2.9" fill="#aaa"/>
<circle cx="431.30" cy="485.80" r="2.9" fill="#aaa"/>
<circle cx="462.90" cy="474.40" r="2.9" fill="#aaa"/>
<circle cx="369.25" cy="515.75" r="2.9" fill="#000"/>
<circle cx="400.30" cy="497.00" r="2.9" fill="#000"/>
<circle cx="431.30" cy="474.40" r="2.9" fill="#000"/>
<circle cx="462.90" cy="446.40" r="2.9" fill="#000"/>
<circle cx="306.30" cy="540.60" r="2.9" fill="#aaa"/>
<text x="431.80" y="528.80" font-size="9.2" font-weight="normal" stroke="#222" stroke-width="0.1" font-style="italic" fill="#222" textLength="47.80" lengthAdjust="spacingAndGlyphs">CD34 (n=4)</text>
</svg></body></html>
